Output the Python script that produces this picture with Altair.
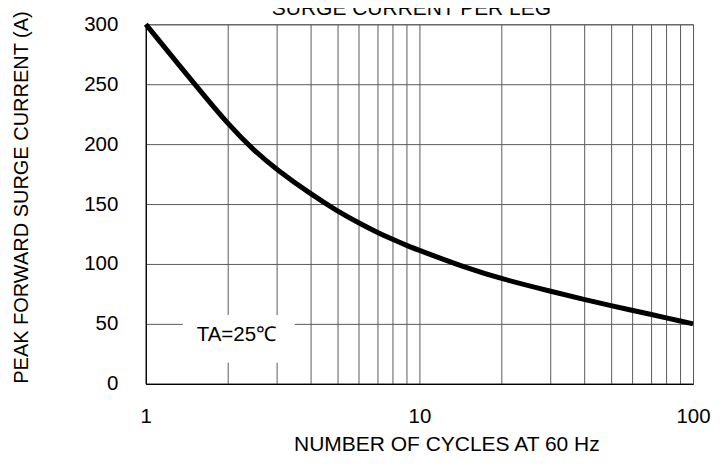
import altair as alt
import pandas as pd

# ---- data ----
cycles = [1, 1.5, 2, 2.5, 3, 4, 5, 6, 7, 8, 9, 10, 15, 20, 30, 40, 50, 60, 70, 80, 90, 100]
current = [300, 250.7, 216.3, 194, 179, 158.4, 144.3, 134.2, 126.5, 120.4, 115.4, 111.3,
           96.3, 87.5, 77.3, 70.4, 65.3, 61.3, 57.9, 55, 52.4, 50]

x_ticks = [1, 2, 3, 4, 5, 6, 7, 8, 9, 10, 20, 30, 40, 50, 60, 70, 80, 90, 100]
x_labels = [1, 10, 100]
y_ticks = [0, 50, 100, 150, 200, 250, 300]

chart_title = "SURGE CURRENT PER LEG"
x_title = "NUMBER OF CYCLES AT 60 Hz"
y_title = "PEAK FORWARD SURGE CURRENT (A)"

note_text = ["TA=25℃"]
note_x = [1.535]
note_y = [40.8]
box_x = [1.365]
box_x2 = [3.5]
box_y = [17.5]
box_y2 = [57.5]

FONT = "Liberation Sans"
FS = 20.5

curve_df = pd.DataFrame({"cycles": cycles, "current": current})
note_df = pd.DataFrame({"cycles": note_x, "current": note_y, "t": note_text})
box_df = pd.DataFrame({"cycles": box_x, "cycles2": box_x2, "current": box_y, "current2": box_y2})
title_df = pd.DataFrame({"t": [chart_title]})

xscale = alt.Scale(type="log", domain=[1, 100], nice=False)
yscale = alt.Scale(domain=[0, 300], nice=False)

label_expr = f"indexof({x_labels}, datum.value) >= 0 ? format(datum.value, 'd') : ''"

x_axis = alt.Axis(values=x_ticks, labelExpr=label_expr, title=x_title,
                  grid=True, ticks=False, tickSize=0, labelPadding=23,
                  labelFlush=False, labelOverlap=False, titleFontSize=21,
                  titleX=301, titleY=61, titleBaseline="middle", titleAlign="center")
y_axis = alt.Axis(values=y_ticks, title=y_title, grid=True, ticks=False, tickSize=0,
                  labelPadding=28, labelFlush=False, labelOverlap=False, titleFontSize=20,
                  titleX=-124, titleY=173, titleAngle=270,
                  titleBaseline="middle", titleAlign="center")

X = alt.X("cycles:Q", scale=xscale, axis=x_axis, title=x_title)
Y = alt.Y("current:Q", scale=yscale, axis=y_axis, title=y_title)

line = alt.Chart(curve_df).mark_line(color="black", strokeWidth=5, interpolate="basis").encode(
    x=X, y=Y,
)

box = alt.Chart(box_df).mark_rect(color="white", opacity=1).encode(
    x=X, x2="cycles2:Q", y=Y, y2="current2:Q",
)

note = alt.Chart(note_df).mark_text(align="left", baseline="middle", fontSize=FS, font=FONT,
                                    color="black").encode(
    x=X, y=Y, text="t:N",
)

# chart title sits at the very top edge, cut off as in the reference
title = alt.Chart(title_df).mark_text(align="center", baseline="alphabetic", fontSize=21,
                                      font=FONT, color="black").encode(
    x=alt.value(266),
    y=alt.value(-9),
    text="t:N",
)

chart = alt.layer(line, box, note, title).properties(
    width=548,
    height=360,
    autosize=alt.AutoSizeParams(type="none"),
    padding={"left": 138, "top": 16, "right": 20, "bottom": 70},
).configure_view(
    stroke="#666666", strokeWidth=1
).configure_axis(
    labelFont=FONT, titleFont=FONT, labelFontSize=FS, titleFontSize=FS,
    labelColor="black", titleColor="black", titleFontWeight="normal",
    domainColor="black", domainWidth=1.2,
    gridColor="#5a5a5a", gridWidth=1, gridOpacity=1,
)

chart.save("out.html", embed_options={"renderer": "svg", "actions": False})
